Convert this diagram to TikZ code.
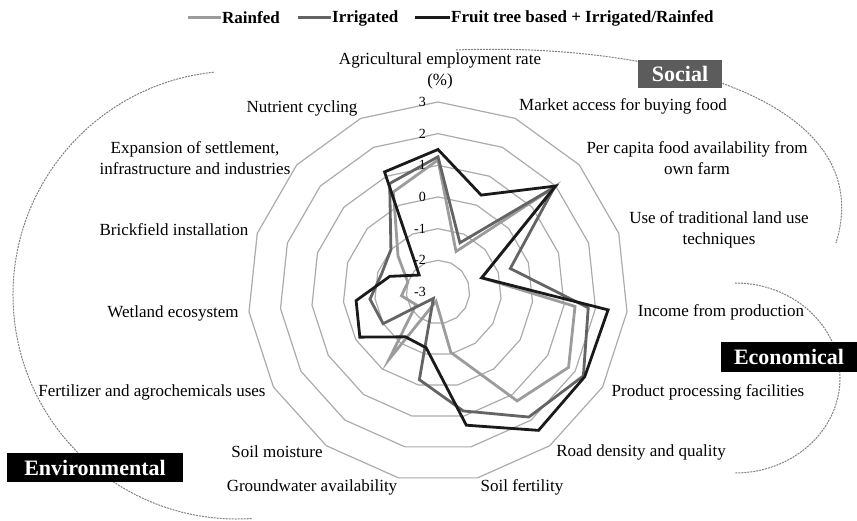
\documentclass[tikz,border=0pt]{standalone}
\usepackage{fontspec}
\setmainfont{Liberation Serif}
\usetikzlibrary{positioning}

\definecolor{rainfed}{HTML}{9C9C9C}
\definecolor{irrigated}{HTML}{646464}
\definecolor{fruit}{HTML}{1A1A1A}
\definecolor{gridgray}{HTML}{ABABAB}
\definecolor{socialgray}{HTML}{5C5C5C}

\tikzset{
  ring/.style={draw=gridgray, line width=1.2pt, line join=round},
  series/.style={line width=2.8pt, line join=miter},
  axis_lbl/.style={font=\fontsize{17}{21}\selectfont, align=center, inner sep=0pt},
  tick_lbl/.style={font=\fontsize{14}{14}\selectfont, inner sep=0pt, anchor=east},
  cat_box/.style={fill=black, text=white, font=\fontsize{22}{22}\selectfont\bfseries, inner sep=0pt},
  group_arc/.style={draw=gray, dash pattern=on 2pt off 1pt, line width=1pt},
  leg_txt/.style={font=\fontsize{17}{17}\selectfont\bfseries, inner sep=0pt, anchor=west},
  leg_line/.style={line width=3pt},
}

\begin{document}
\begin{tikzpicture}[x=1pt,y=-1pt]
\useasboundingbox (0,0) rectangle (857,521);

% Radar grid and data
\begin{scope}[shift={(438,292)},x=1pt,y=1pt]
\def\unitr{31.67}
\foreach \r in {1,...,6}
  \draw[ring] (90:{\r*\unitr}) \foreach \k in {1,...,14}{ -- ({90-24*\k}:{\r*\unitr}) } -- cycle;
% Rainfed
\draw[series, rainfed] (90:{(1.17+3)*\unitr})
  \foreach \v [count=\k] in {-1.6,1.95,-1.55,1.35,1.76,1.25,-1.05,-2.7,-0.37,-2.2,-1.84,-2.0,-1.3,0.46}
  { -- ({90-24*\k}:{(\v+3)*\unitr}) } -- cycle;
% Irrigated
\draw[series, irrigated] (90:{(1.27+3)*\unitr})
  \foreach \v [count=\k] in {-1.3,1.95,-0.6,1.77,2.3,1.88,0.84,-0.17,-2.75,-1.0,-0.84,-1.13,-1.0,0.75}
  { -- ({90-24*\k}:{(\v+3)*\unitr}) } -- cycle;
% Fruit tree based
\draw[series, fruit] (90:{(1.5+3)*\unitr})
  \foreach \v [count=\k] in {0.35,2.0,-1.55,2.4,2.35,2.4,1.3,-1.2,-1.25,-0.15,-0.4,-1.4,-2.2,1.15}
  { -- ({90-24*\k}:{(\v+3)*\unitr}) } -- cycle;
% ticks
\foreach \t [count=\i from 0] in {-3,-2,-1,0,1,2,3}
  \node[tick_lbl] (tick_\i) at (-12pt,{\i*\unitr}) {\t};
\end{scope}

% Axis labels
\node[axis_lbl] (lab_emp) at (440,71) {Agricultural employment rate\\(\%)};
\node[axis_lbl] (lab_market) at (623,106) {Market access for buying food};
\node[axis_lbl] (lab_percap) at (697,158) {Per capita food availability from\\own farm};
\node[axis_lbl] (lab_trad) at (719,230) {Use of traditional land use\\techniques};
\node[axis_lbl] (lab_income) at (721,312) {Income from production};
\node[axis_lbl] (lab_proc) at (708,392) {Product processing facilities};
\node[axis_lbl] (lab_road) at (641,452) {Road density and quality};
\node[axis_lbl] (lab_soilf) at (522,487) {Soil fertility};
\node[axis_lbl] (lab_ground) at (312,487) {Groundwater availability};
\node[axis_lbl] (lab_moist) at (277,452) {Soil moisture};
\node[axis_lbl] (lab_chem) at (152,392) {Fertilizer and agrochemicals uses};
\node[axis_lbl] (lab_wet) at (173,313) {Wetland ecosystem};
\node[axis_lbl] (lab_brick) at (174,230) {Brickfield installation};
\node[axis_lbl] (lab_expan) at (195,158) {Expansion of settlement,\\infrastructure and industries};
\node[axis_lbl] (lab_nutr) at (302,108) {Nutrient cycling};

% Group arcs
\draw[group_arc] (456,50) .. controls (660,42) and (880,100) .. (836,243);
\draw[group_arc] (735,283) arc[start angle=-90, end angle=90, x radius=105, y radius=95];
\draw[group_arc] (237,295) ++(264:224) arc[start angle=264, end angle=86, radius=224];

% Group boxes
\node[cat_box, fill=socialgray, minimum width=84pt, minimum height=28pt] (box_social) at (680,74) {Social};
\node[cat_box, minimum width=136pt, minimum height=30pt] (box_econ) at (789,357) {Economical};
\node[cat_box, minimum width=176pt, minimum height=29pt] (box_env) at (95,467.5) {Environmental};

% Legend
\draw[leg_line, rainfed] (188,18) -- (221,18);
\node[leg_txt] (leg_rain) at (222,18) {Rainfed};
\draw[leg_line, irrigated] (298,18) -- (331,18);
\node[leg_txt] (leg_irr) at (332,18) {Irrigated};
\draw[leg_line, fruit] (415,18) -- (450,18);
\node[leg_txt] (leg_fruit) at (451,18) {Fruit tree based + Irrigated/Rainfed};
\end{tikzpicture}
\end{document}
